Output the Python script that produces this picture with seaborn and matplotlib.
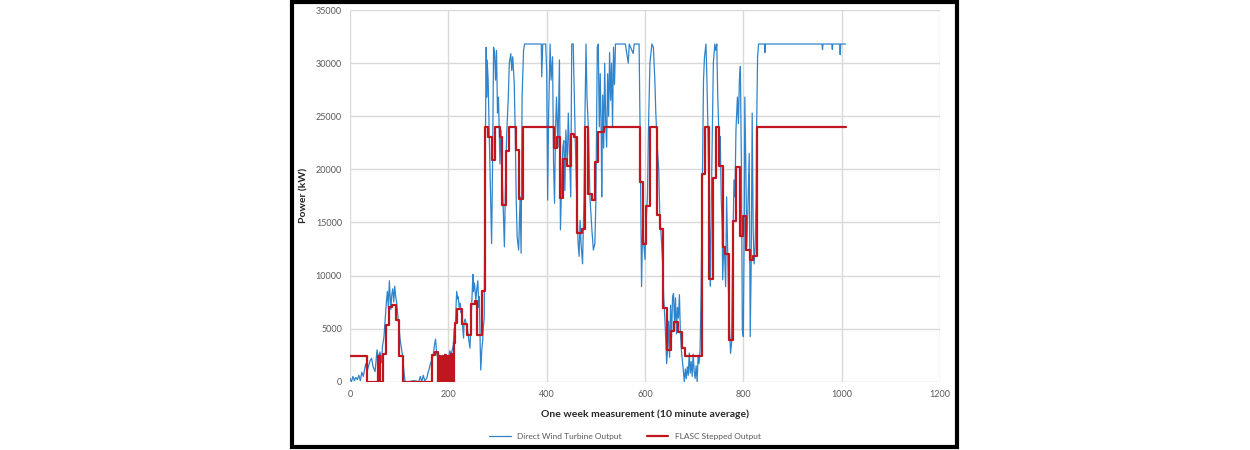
import matplotlib
matplotlib.use("Agg")
import matplotlib.pyplot as plt
import seaborn as sns
from matplotlib.patches import Rectangle

# Direct wind turbine output (x = 10 minute sample index, y = kW)
blue_x = [0, 3, 6, 9, 12, 15, 18, 21, 24, 27, 30, 32, 35, 38, 41, 44, 47, 51, 55, 58,
          61, 64, 66, 69, 71, 74, 76, 78, 80, 82, 83, 85, 87, 89, 91, 93, 95, 98, 100, 102,
          105, 107, 110, 112, 120, 130, 140, 143, 146, 149, 152, 156, 159, 161, 163, 166, 169, 172, 174, 176,
          178, 181, 183, 186, 188, 190, 193, 197, 200, 203, 206, 210, 212, 214, 216, 217, 219, 220, 222, 224,
          226, 227, 229, 231, 232, 234, 236, 237, 240, 242, 244, 246, 248, 250, 251, 253, 256, 258, 260, 262,
          263, 265, 266, 268, 270, 271, 273, 274, 277, 278, 279, 281, 283, 286, 288, 290, 292, 294, 296, 298,
          300, 302, 305, 307, 310, 312, 314, 317, 319, 322, 324, 327, 329, 331, 334, 336, 338, 340, 343, 346,
          348, 350, 353, 355, 389, 390, 392, 398, 400, 402, 404, 407, 409, 412, 414, 416, 418, 420, 423, 426,
          428, 431, 433, 435, 437, 439, 442, 444, 446, 449, 451, 454, 456, 458, 461, 464, 466, 468, 470, 473,
          476, 478, 480, 482, 485, 488, 492, 495, 498, 500, 503, 505, 507, 509, 511, 512, 514, 516, 518, 520,
          522, 524, 526, 528, 530, 532, 534, 536, 538, 540, 560, 566, 568, 576, 578, 588, 590, 593, 595, 598,
          600, 602, 605, 607, 610, 614, 617, 620, 622, 625, 628, 630, 633, 636, 638, 641, 644, 646, 648, 650,
          652, 654, 656, 658, 660, 662, 664, 666, 668, 670, 672, 674, 676, 678, 680, 682, 684, 686, 688, 690,
          692, 694, 696, 698, 700, 702, 704, 706, 708, 710, 712, 714, 717, 719, 721, 724, 726, 728, 730, 732,
          733, 735, 737, 739, 742, 744, 746, 748, 751, 753, 755, 757, 758, 760, 762, 764, 766, 768, 770, 772,
          774, 776, 778, 781, 783, 785, 788, 790, 792, 794, 796, 798, 800, 802, 803, 805, 807, 809, 812, 814,
          816, 818, 820, 822, 824, 826, 827, 829, 831, 843, 844, 845, 960, 961, 962, 980, 981, 982, 996, 997,
          998, 1008]
blue_y = [300, 0, 500, 100, 400, 200, 600, 100, 900, 500, 1200, 1700, 1000, 1500, 2000, 2200, 1400, 950, 3000, 2200,
          2800, 1800, 3300, 4200, 5500, 7500, 8500, 7000, 9500, 7800, 6800, 8200, 8750, 7500, 9000, 8000, 7400, 5850, 5000, 3950,
          3000, 2400, 800, 0, 0, 100, 0, 500, 0, 600, 100, 300, 900, 1200, 1600, 2000, 2500, 3500, 4000, 2800,
          2300, 2500, 2400, 1800, 2400, 2000, 2600, 2400, 2000, 2900, 2600, 3400, 5000, 4900, 7500, 8500, 7800, 8000, 7000, 7400,
          6500, 6800, 5200, 4100, 5600, 5900, 5500, 5300, 4600, 3800, 3150, 5500, 8000, 10100, 8500, 9300, 7700, 8800, 9500, 7000,
          8000, 3000, 1100, 3000, 3950, 5000, 6000, 15000, 31500, 26800, 30300, 28400, 23700, 17400, 13000, 20500, 31500, 31000, 28400, 31200,
          25300, 26800, 20500, 23700, 19000, 15800, 12700, 20500, 23700, 26800, 30000, 30900, 29300, 30600, 28100, 23700, 17400, 13600, 12400, 17400,
          12100, 26800, 31200, 31800, 31800, 28700, 31800, 31800, 29300, 17100, 25300, 31800, 28400, 30600, 20500, 16800, 23700, 26800, 22100, 30300,
          14300, 19900, 22100, 22700, 18000, 23700, 20500, 25300, 22100, 17400, 31800, 31800, 27500, 23100, 17400, 13000, 11800, 15200, 13000, 11100,
          17400, 25300, 31800, 26800, 23700, 17400, 14300, 12400, 13000, 16800, 31500, 31800, 24000, 29000, 23000, 17400, 27000, 22000, 30000, 24500,
          22100, 29000, 25000, 31000, 26500, 30000, 24000, 31500, 28000, 31800, 31800, 30000, 31800, 30900, 31800, 31800, 23700, 8950, 14300, 12700,
          11500, 14900, 17400, 23700, 30000, 31800, 31500, 28400, 25300, 22100, 19900, 15850, 13650, 11100, 8000, 5300, 1700, 3000, 5700, 2300,
          7200, 4200, 8000, 8300, 5500, 7900, 4500, 7000, 6000, 8200, 4600, 3000, 2000, 900, 0, 1200, 300, 1400, 600, 2700,
          800, 1900, 500, 2600, 1000, 300, 1500, 0, 2500, 1700, 3000, 8000, 20600, 28400, 30600, 31800, 28400, 23700, 17400, 12700,
          9000, 17400, 23700, 30000, 31800, 31200, 31800, 26800, 22100, 23100, 17400, 14300, 9600, 12700, 11800, 8950, 17400, 12700, 8000, 4870,
          2670, 3600, 11100, 19000, 17400, 23700, 26800, 24300, 28400, 29700, 20600, 4870, 4240, 15850, 26800, 20600, 12700, 15850, 21500, 4240,
          11100, 25300, 14300, 11100, 12700, 17400, 23700, 30600, 31800, 31800, 31000, 31800, 31800, 31300, 31800, 31800, 31300, 31800, 31800, 30800,
          31800, 31800]

# FLASC stepped output: start of each step and its level (kW)
red_x = [0, 35, 56, 62, 67, 73, 80, 85, 94, 100, 108, 166, 173, 178, 181, 184, 187, 190, 193, 196,
         199, 202, 205, 208, 211, 213, 217, 227, 237, 247, 254, 259, 268, 275, 281, 288, 295, 306, 310, 317,
         324, 337, 344, 351, 414, 422, 428, 434, 442, 449, 456, 462, 471, 478, 485, 492, 498, 505, 517, 590,
         595, 603, 610, 624, 630, 637, 645, 652, 659, 668, 675, 681, 715, 722, 731, 738, 744, 751, 759, 763,
         771, 778, 785, 793, 800, 805, 813, 820, 827, 1008]
red_y = [2400, 0, 2400, 0, 2600, 5300, 7000, 7200, 5800, 2400, 0, 2500, 2800, 0, 2400, 0, 2400, 0, 2500, 0,
         2400, 0, 2600, 0, 3600, 5500, 6800, 5400, 4400, 7300, 7600, 4400, 8500, 24000, 23000, 20900, 24000, 23000, 16600, 21700,
         24000, 21800, 17200, 24000, 22000, 23000, 17300, 21000, 20300, 23300, 23000, 14000, 14400, 24000, 17700, 17100, 20700, 23500, 24000, 18800,
         13000, 16500, 24000, 15700, 14400, 6900, 3000, 4800, 5600, 4700, 3200, 2400, 19600, 24000, 9700, 19200, 24000, 20300, 12700, 12000,
         3900, 15100, 20200, 13700, 15600, 12400, 11500, 11800, 24000, 24000]

x_ticks = [0, 200, 400, 600, 800, 1000, 1200]
y_ticks = [0, 5000, 10000, 15000, 20000, 25000, 30000, 35000]

sns.set_theme(style="whitegrid")
plt.rcParams['font.family'] = ['Lato', 'DejaVu Sans']

fig = plt.figure(figsize=(12.5, 4.5), dpi=100)
ax = fig.add_axes([0.28, 0.1518, 0.472, 0.8259])

sns.lineplot(x=blue_x, y=blue_y, ax=ax, color="#2f84cc", linewidth=0.9,
             estimator=None, sort=False, label="Direct Wind Turbine Output")
sns.lineplot(x=red_x, y=red_y, ax=ax, color="#c0161e", linewidth=1.6, drawstyle="steps-post",
             estimator=None, sort=False, label="FLASC Stepped Output")

ax.set_xlim(0, 1200)
ax.set_ylim(0, 35000)
ax.set_xticks(x_ticks)
ax.set_yticks(y_ticks)
ax.grid(True, color="#d9d9d9", linewidth=1.0)
for s in ax.spines.values():
    s.set_visible(False)
ax.tick_params(axis="both", length=0, labelsize=6.5, labelcolor="#595959")
ax.tick_params(axis="x", pad=6.3)
ax.tick_params(axis="y", pad=5.8)

ax.set_xlabel("One week measurement (10 minute average)", fontsize=7.5, fontweight="bold", color="#262626")
ax.set_ylabel("Power (kW)", fontsize=7.5, fontweight="bold", color="#262626")
ax.xaxis.set_label_coords(0.5, -0.076)
ax.yaxis.set_label_coords((308 - 350) / 590, 0.5)

ax.legend(loc="center", bbox_to_anchor=(625 / 1250, 14 / 450), bbox_transform=fig.transFigure,
          ncol=2, frameon=False, fontsize=6, handlelength=2.6, columnspacing=3.0,
          labelcolor="#595959")

# black frame around the chart
fig.patches.append(Rectangle((291.5 / 1250, 3 / 450), (957 - 291.5) / 1250, (448.5 - 3) / 450,
                             transform=fig.transFigure, fill=False, edgecolor="black", linewidth=3))

fig.savefig("out.png", dpi=100)
